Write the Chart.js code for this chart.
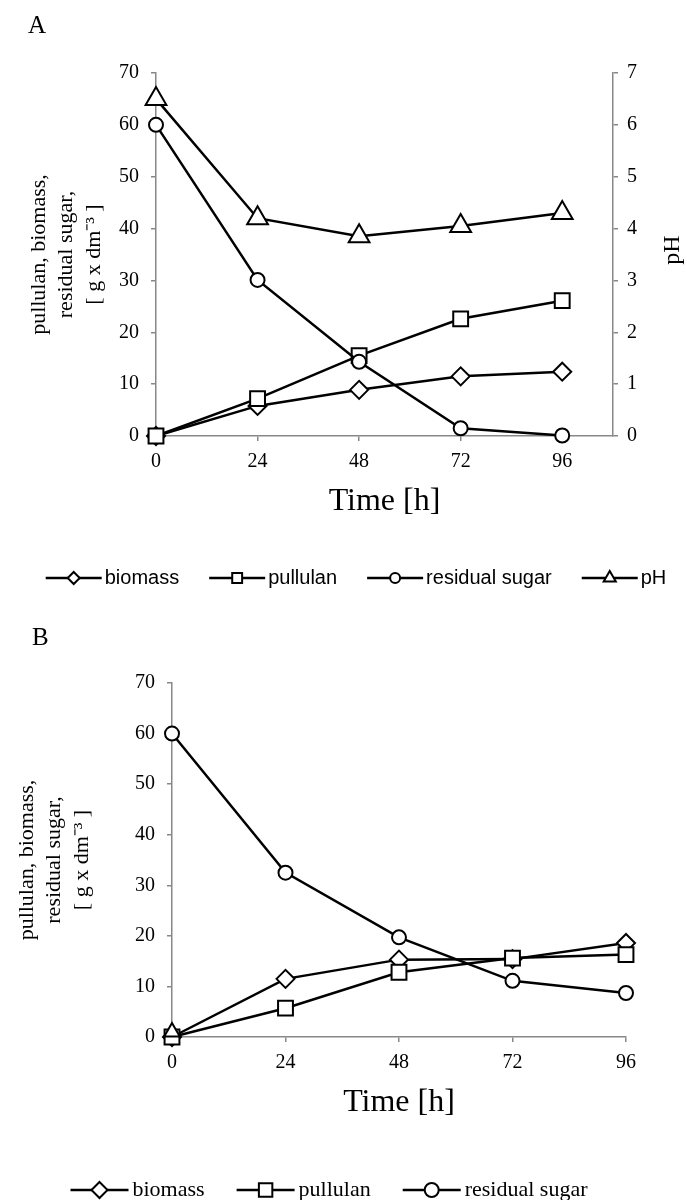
<!DOCTYPE html>
<html>
<head>
<meta charset="utf-8">
<script src="https://cdn.jsdelivr.net/npm/chart.js@4.4.0/dist/chart.umd.min.js"></script>
<style>
  body { margin: 0; background: #fff; width: 687px; height: 1200px; overflow: hidden; }
  .panel { position: absolute; left: 0; width: 687px; }
</style>
</head>
<body>
<div class="panel" style="top:0;height:610px"><canvas id="chartA"></canvas></div>
<div class="panel" style="top:610px;height:590px"><canvas id="chartB"></canvas></div>
<script>
// ===== data =====
const hours = [0, 24, 48, 72, 96];
const timeTicks = [0, 24, 48, 72, 96];

// panel A
const biomassA = [0, 5.8, 8.9, 11.5, 12.4];
const pullulanA = [0, 7.2, 15.5, 22.6, 26.1];
const sugarA = [60, 30.1, 14.3, 1.5, 0.1];
const phA = [6.5, 4.2, 3.85, 4.05, 4.3];

// panel B
const biomassB = [0, 11.5, 15.3, 15.4, 18.6];
const pullulanB = [0, 5.7, 12.8, 15.6, 16.3];
const sugarB = [60, 32.5, 19.7, 11.1, 8.7];
const phB = [1.0];

const serif = '"Liberation Serif", "Times New Roman", serif';
const axisGray = '#888888';
const yTitle = ['pullulan, biomass,', 'residual sugar,', '[ g x dm\u207B\u00B3 ]'];

function pts(arr) {
  return arr.map((v, i) => ({ x: hours[i], y: v }));
}

function series(label, arr, style, radius, order, axis, legend) {
  return {
    label: label,
    data: pts(arr),
    yAxisID: axis || 'y',
    borderColor: '#000',
    borderWidth: 2.5,
    pointStyle: style,
    pointRadius: radius,
    pointHoverRadius: radius,
    pointBackgroundColor: '#fff',
    pointBorderColor: '#000',
    pointBorderWidth: 2,
    tension: 0,
    clip: false,
    order: order,
    legendItem: legend
  };
}

function xAxis(max) {
  return {
    type: 'linear', position: 'bottom', min: 0, max: max,
    afterBuildTicks(s) { s.ticks = timeTicks.map(v => ({ value: v })); },
    ticks: { color: '#000', font: { family: serif, size: 20 }, padding: 9 },
    grid: { drawOnChartArea: false, drawTicks: true, tickLength: 5, color: axisGray, lineWidth: 1.5 },
    border: { color: axisGray, width: 1.5 },
    title: { display: true, text: 'Time [h]', color: '#000',
             font: { family: serif, size: 32, lineHeight: 1.2 }, padding: { top: 0, bottom: 0 } },
    afterFit(s) { s.height = 85; }
  };
}

function leftAxis(width, titlePad) {
  return {
    type: 'linear', position: 'left', min: 0, max: 70,
    ticks: { stepSize: 10, color: '#000', font: { family: serif, size: 20 }, padding: 12 },
    grid: { drawOnChartArea: false, drawTicks: true, tickLength: 5, color: axisGray, lineWidth: 1.5 },
    border: { color: axisGray, width: 1.5 },
    title: { display: true, text: yTitle, color: '#000',
             font: { family: serif, size: 22, lineHeight: 1.25 }, padding: { top: titlePad, bottom: 0 } },
    afterFit(s) { s.width = width; }
  };
}

// panel letter, rotated pH title and the line+marker legend
const extras = {
  id: 'extras',
  afterDraw(chart, args, o) {
    const ctx = chart.ctx;
    ctx.save();
    ctx.fillStyle = '#000';
    ctx.font = '25px ' + serif;
    ctx.textAlign = 'left';
    ctx.textBaseline = 'middle';
    ctx.fillText(o.panel, o.panelX, o.panelY);

    if (o.rightTitle) {
      ctx.save();
      ctx.translate(o.rightTitle.x, o.rightTitle.y);
      ctx.rotate(-Math.PI / 2);
      ctx.textAlign = 'center';
      ctx.font = '24px ' + serif;
      ctx.fillText(o.rightTitle.text, 0, 0);
      ctx.restore();
    }

    // legend
    const lg = o.legend;
    ctx.font = lg.font;
    const items = chart.data.datasets.filter(d => d.legendItem);
    const widths = items.map(d => lg.line + lg.textGap + ctx.measureText(d.label).width);
    const total = widths.reduce((a, b) => a + b, 0) + lg.gap * (items.length - 1);
    let x = lg.center - total / 2;
    items.forEach((d, i) => {
      ctx.strokeStyle = '#000';
      ctx.lineWidth = 2.5;
      ctx.beginPath();
      ctx.moveTo(x, lg.y);
      ctx.lineTo(x + lg.line, lg.y);
      ctx.stroke();
      ctx.fillStyle = '#fff';
      ctx.lineWidth = 2;
      Chart.helpers.drawPoint(ctx, { pointStyle: d.pointStyle, radius: d.legendItem, borderWidth: 2, rotation: 0 },
        x + lg.line / 2, lg.y);
      ctx.fillStyle = '#000';
      ctx.textAlign = 'left';
      ctx.textBaseline = 'middle';
      ctx.fillText(d.label, x + lg.line + lg.textGap, lg.y);
      x += widths[i] + lg.gap;
    });
    ctx.restore();
  }
};

// ===== Chart A =====
const chartA = new Chart(document.getElementById('chartA').getContext('2d'), {
  type: 'line',
  data: {
    datasets: [
      series('biomass', biomassA, 'rectRot', 9, 4, 'y', 6),
      series('pullulan', pullulanA, 'rect', 10.5, 3, 'y', 7),
      series('residual sugar', sugarA, 'circle', 7, 2, 'y', 5),
      series('pH', phA, 'triangle', 12, 1, 'y2', 7)
    ]
  },
  options: {
    responsive: true,
    maintainAspectRatio: false,
    animation: false,
    devicePixelRatio: 1,
    layout: { padding: { left: 0, right: 0, top: 73, bottom: 89 } },
    plugins: {
      legend: { display: false },
      tooltip: { enabled: false },
      extras: {
        panel: 'A', panelX: 28, panelY: 26,
        rightTitle: { text: 'pH', x: 673, y: 250 },
        legend: { font: '20px "Liberation Sans", Arial, sans-serif', line: 56, textGap: 3, gap: 30, center: 356, y: 578 }
      }
    },
    scales: {
      x: xAxis(108),
      y: leftAxis(156, 25),
      y2: {
        type: 'linear', position: 'right', min: 0, max: 7,
        ticks: { stepSize: 1, color: '#000', font: { family: serif, size: 20 }, padding: 9 },
        grid: { drawOnChartArea: false, drawTicks: true, tickLength: 5, color: axisGray, lineWidth: 1.5 },
        border: { color: axisGray, width: 1.5 },
        afterFit(s) { s.width = 74; }
      }
    }
  },
  plugins: [extras]
});

// ===== Chart B =====
const chartB = new Chart(document.getElementById('chartB').getContext('2d'), {
  type: 'line',
  data: {
    datasets: [
      series('biomass', biomassB, 'rectRot', 9, 4, 'y', 8),
      series('pullulan', pullulanB, 'rect', 10.5, 3, 'y', 9.5),
      series('residual sugar', sugarB, 'circle', 7, 2, 'y', 7),
      series('pH', phB, 'triangle', 9, 1, 'y', 0)
    ]
  },
  options: {
    responsive: true,
    maintainAspectRatio: false,
    animation: false,
    devicePixelRatio: 1,
    layout: { padding: { left: 0, right: 61, top: 73, bottom: 78 } },
    plugins: {
      legend: { display: false },
      tooltip: { enabled: false },
      extras: {
        panel: 'B', panelX: 32, panelY: 28,
        legend: { font: '22px ' + serif, line: 58, textGap: 4, gap: 32, center: 329, y: 580 }
      }
    },
    scales: {
      x: xAxis(96),
      y: leftAxis(172, 13)
    }
  },
  plugins: [extras]
});
</script>
</body>
</html>
